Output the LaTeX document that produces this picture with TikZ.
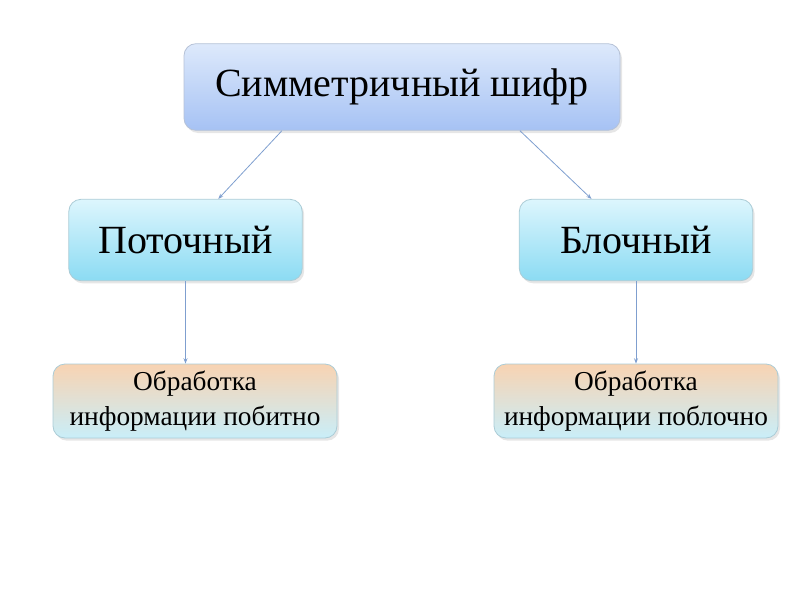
\documentclass[tikz,border=0pt]{standalone}
\usepackage{fontspec}
\setmainfont{Liberation Serif}
\usetikzlibrary{calc,shadows,arrows.meta}
\definecolor{topT}{HTML}{DDE9FB}
\definecolor{topB}{HTML}{A6C2F4}
\definecolor{midT}{HTML}{DDF6FD}
\definecolor{midB}{HTML}{8BDBF3}
\definecolor{lowT}{HTML}{F8D3B2}
\definecolor{lowB}{HTML}{C9EEF9}
\definecolor{edge}{HTML}{7F9FCF}
\tikzset{
  box/.style={draw=#1!60!gray!70, line width=0.6pt, rounded corners=9pt, inner sep=0pt,
     drop shadow={shadow xshift=1.5pt, shadow yshift=-2pt, opacity=0.2, fill=gray}},
  conn/.style={draw=edge, line width=0.6pt, -{Stealth[length=4pt,width=3pt]}}
}
\begin{document}
\begin{tikzpicture}[x=0.75pt,y=-0.75pt]
\useasboundingbox (0,0) rectangle (800,600);
\node[box=topB, top color=topT, bottom color=topB, minimum width=327pt, minimum height=65pt, font=\fontsize{30}{36}\selectfont] (top) at (402,87) {Симметричный шифр};
\node[box=midB, top color=midT, bottom color=midB, minimum width=175pt, minimum height=61pt, font=\fontsize{30}{36}\selectfont] (left) at (185.5,240) {Поточный};
\node[box=midB, top color=midT, bottom color=midB, minimum width=175pt, minimum height=61pt, font=\fontsize{30}{36}\selectfont] (right) at (636,240) {Блочный};
\node[box=midB, top color=lowT, bottom color=lowB, minimum width=213pt, minimum height=55.5pt, align=center, font=\fontsize{20.5}{26}\selectfont] (ll) at (195,401) {Обработка\\информации побитно};
\node[box=midB, top color=lowT, bottom color=lowB, minimum width=213pt, minimum height=55.5pt, align=center, font=\fontsize{20.5}{26}\selectfont] (rl) at (636,401) {Обработка\\информации поблочно};
\draw[conn] ($(top.south west)!0.225!(top.south east)$) -- ($(left.north west)!0.64!(left.north east)$);
\draw[conn] ($(top.south west)!0.77!(top.south east)$) -- ($(right.north west)!0.31!(right.north east)$);
\draw[conn] (left.south) -- (left.south |- ll.north);
\draw[conn] (right.south) -- (rl.north);
\end{tikzpicture}
\end{document}
